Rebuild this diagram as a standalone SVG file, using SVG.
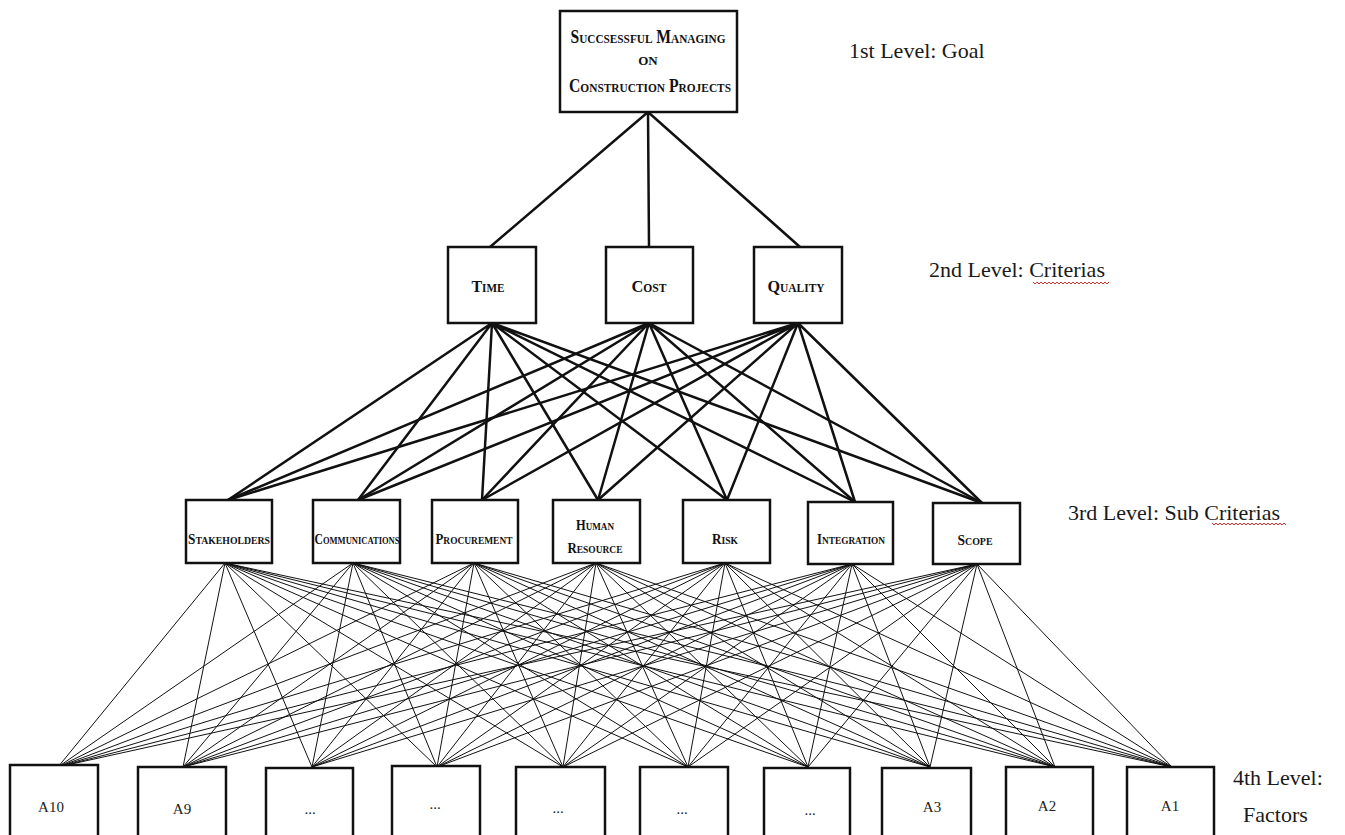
<svg xmlns="http://www.w3.org/2000/svg" width="1345" height="835" viewBox="0 0 1345 835">
<style>
.box{fill:#fff;stroke:#111;stroke-width:2.5}
.sc{font-family:"Liberation Serif","Times New Roman",serif;font-weight:bold;font-variant:small-caps;fill:#111;text-anchor:middle}
.f{font-family:"Liberation Serif","Times New Roman",serif;font-size:15px;fill:#222;text-anchor:middle}
.lv{font-family:"Liberation Serif","Times New Roman",serif;font-size:22px;fill:#1a1a1a}
.thick{stroke:#111;stroke-width:2.5;fill:none}
.thin{stroke:#111;stroke-width:1;fill:none}
.sq{stroke:#d03030;stroke-width:1;fill:none}
</style>
<rect width="1345" height="835" fill="#fff"/>
<g id="connectors">
<path class="thick" d="M648 112L490 247M648 112L649 247M648 112L800 247"/>
<path class="thick" d="M492 323L228 500M492 323L358 500M492 323L482 500M492 323L598 500M492 323L727 500M492 323L855 502M492 323L982 503"/>
<path class="thick" d="M649 323L228 500M649 323L358 500M649 323L482 500M649 323L598 500M649 323L727 500M649 323L855 502M649 323L982 503"/>
<path class="thick" d="M798 323L228 500M798 323L358 500M798 323L482 500M798 323L598 500M798 323L727 500M798 323L855 502M798 323L982 503"/>
<path class="thin" d="M225 563L58 767M225 563L183 767M225 563L312 767M225 563L437 767M225 563L563 767M225 563L688 767M225 563L808 767M225 563L930 767M225 563L1055 767M225 563L1172 767"/>
<path class="thin" d="M353 563L58 767M353 563L183 767M353 563L312 767M353 563L437 767M353 563L563 767M353 563L688 767M353 563L808 767M353 563L930 767M353 563L1055 767M353 563L1172 767"/>
<path class="thin" d="M474 563L58 767M474 563L183 767M474 563L312 767M474 563L437 767M474 563L563 767M474 563L688 767M474 563L808 767M474 563L930 767M474 563L1055 767M474 563L1172 767"/>
<path class="thin" d="M596 563L58 767M596 563L183 767M596 563L312 767M596 563L437 767M596 563L563 767M596 563L688 767M596 563L808 767M596 563L930 767M596 563L1055 767M596 563L1172 767"/>
<path class="thin" d="M725 563L58 767M725 563L183 767M725 563L312 767M725 563L437 767M725 563L563 767M725 563L688 767M725 563L808 767M725 563L930 767M725 563L1055 767M725 563L1172 767"/>
<path class="thin" d="M852 564L58 767M852 564L183 767M852 564L312 767M852 564L437 767M852 564L563 767M852 564L688 767M852 564L808 767M852 564L930 767M852 564L1055 767M852 564L1172 767"/>
<path class="thin" d="M977 564L58 767M977 564L183 767M977 564L312 767M977 564L437 767M977 564L563 767M977 564L688 767M977 564L808 767M977 564L930 767M977 564L1055 767M977 564L1172 767"/>
</g>
<g id="goal">
<rect class="box" x="560" y="11" width="177" height="101"/>
<text class="sc" x="648" y="43" font-size="18" textLength="155" lengthAdjust="spacingAndGlyphs">Succsessful Managing</text>
<text class="sc" x="648" y="65" font-size="18">on</text>
<text class="sc" x="650" y="92" font-size="18" textLength="162" lengthAdjust="spacingAndGlyphs">Construction Projects</text>
</g>
<g id="time">
<rect class="box" x="448" y="247" width="88" height="76"/>
<text class="sc" x="488" y="292" font-size="17" textLength="33" lengthAdjust="spacingAndGlyphs">Time</text>
</g>
<g id="cost">
<rect class="box" x="606" y="247" width="87" height="76"/>
<text class="sc" x="649" y="292" font-size="17" textLength="35" lengthAdjust="spacingAndGlyphs">Cost</text>
</g>
<g id="quality">
<rect class="box" x="754" y="247" width="88" height="76"/>
<text class="sc" x="796" y="292" font-size="17" textLength="57" lengthAdjust="spacingAndGlyphs">Quality</text>
</g>
<g id="stakeholders">
<rect class="box" x="186" y="500" width="86" height="63"/>
<text class="sc" x="229" y="544" font-size="15" textLength="82" lengthAdjust="spacingAndGlyphs">Stakeholders</text>
</g>
<g id="communications">
<rect class="box" x="313" y="500" width="87" height="63"/>
<text class="sc" x="357" y="544" font-size="15" textLength="85" lengthAdjust="spacingAndGlyphs">Communications</text>
</g>
<g id="procurement">
<rect class="box" x="432" y="500" width="86" height="63"/>
<text class="sc" x="474" y="544" font-size="15" textLength="77" lengthAdjust="spacingAndGlyphs">Procurement</text>
</g>
<g id="human-resource">
<rect class="box" x="553" y="500" width="87" height="63"/>
<text class="sc" x="595" y="530" font-size="15" textLength="38" lengthAdjust="spacingAndGlyphs">Human</text>
<text class="sc" x="595" y="553" font-size="15" textLength="55" lengthAdjust="spacingAndGlyphs">Resource</text>
</g>
<g id="risk">
<rect class="box" x="683" y="500" width="87" height="63"/>
<text class="sc" x="725" y="544" font-size="15" textLength="26" lengthAdjust="spacingAndGlyphs">Risk</text>
</g>
<g id="integration">
<rect class="box" x="808" y="502" width="85" height="62"/>
<text class="sc" x="851" y="544" font-size="15" textLength="68" lengthAdjust="spacingAndGlyphs">Integration</text>
</g>
<g id="scope">
<rect class="box" x="933" y="503" width="87" height="61"/>
<text class="sc" x="975" y="545" font-size="15" textLength="35" lengthAdjust="spacingAndGlyphs">Scope</text>
</g>
<g id="a10"><rect class="box" x="10" y="765" width="88" height="80"/><text class="f" x="51" y="812">A10</text></g>
<g id="a9"><rect class="box" x="138" y="767" width="88" height="78"/><text class="f" x="182" y="814">A9</text></g>
<g id="f8"><rect class="box" x="266" y="768" width="87" height="77"/><text class="f" x="310" y="814">...</text></g>
<g id="f7"><rect class="box" x="392" y="766" width="88" height="79"/><text class="f" x="435" y="809">...</text></g>
<g id="f6"><rect class="box" x="516" y="767" width="89" height="78"/><text class="f" x="558" y="813">...</text></g>
<g id="f5"><rect class="box" x="640" y="767" width="88" height="78"/><text class="f" x="682" y="814">...</text></g>
<g id="f4"><rect class="box" x="764" y="768" width="86" height="77"/><text class="f" x="810" y="815">...</text></g>
<g id="a3"><rect class="box" x="882" y="768" width="89" height="77"/><text class="f" x="932" y="812">A3</text></g>
<g id="a2"><rect class="box" x="1006" y="767" width="87" height="78"/><text class="f" x="1047" y="811">A2</text></g>
<g id="a1"><rect class="box" x="1127" y="767" width="87" height="78"/><text class="f" x="1170" y="811">A1</text></g>
<g id="labels">
<text class="lv" x="849" y="58">1st Level: Goal</text>
<text class="lv" x="929" y="277">2nd Level: Criterias</text>
<path class="sq" d="M1033 282l2 2l2 -2l2 2l2 -2l2 2l2 -2l2 2l2 -2l2 2l2 -2l2 2l2 -2l2 2l2 -2l2 2l2 -2l2 2l2 -2l2 2l2 -2l2 2l2 -2l2 2l2 -2l2 2l2 -2l2 2l2 -2l2 2l2 -2l2 2l2 -2l2 2l2 -2l2 2l2 -2l2 2l2 -2"/>
<text class="lv" x="1068" y="520">3rd Level: Sub Criterias</text>
<path class="sq" d="M1212 523l2 2l2 -2l2 2l2 -2l2 2l2 -2l2 2l2 -2l2 2l2 -2l2 2l2 -2l2 2l2 -2l2 2l2 -2l2 2l2 -2l2 2l2 -2l2 2l2 -2l2 2l2 -2l2 2l2 -2l2 2l2 -2l2 2l2 -2l2 2l2 -2l2 2l2 -2l2 2l2 -2l2 2"/>
<text class="lv" x="1233" y="785">4th Level:</text>
<text class="lv" x="1243" y="822">Factors</text>
</g>
</svg>
